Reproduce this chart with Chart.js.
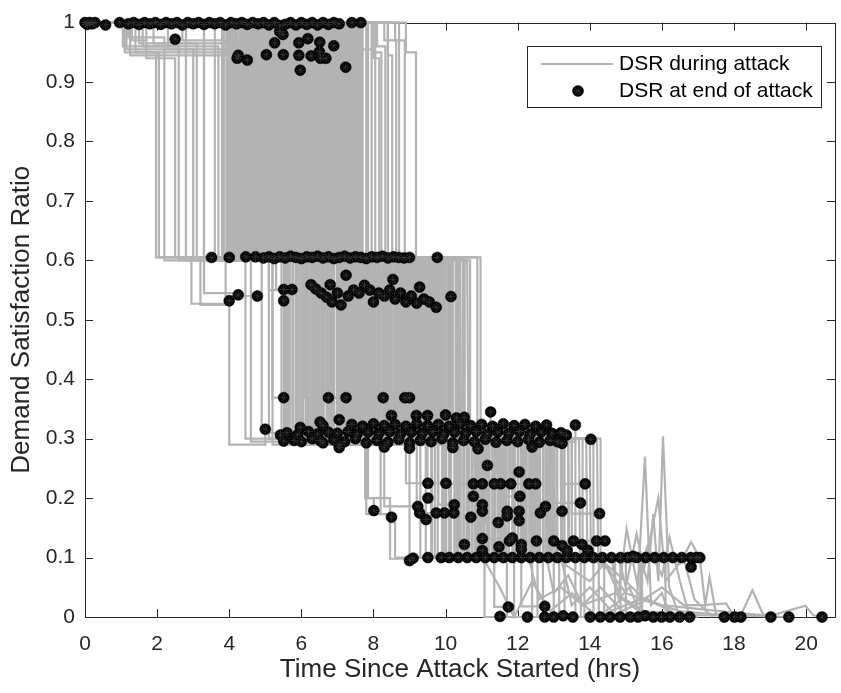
<!DOCTYPE html>
<html>
<head>
<meta charset="utf-8">
<title>Demand Satisfaction Ratio during attack</title>
<script src="https://cdn.jsdelivr.net/npm/chart.js@4.4.0/dist/chart.umd.min.js"></script>
<style>
    html, body { margin: 0; padding: 0; background: #fff; }
    #wrap { width: 841px; height: 693px; }
</style>
</head>
<body>
<div id="wrap"><canvas id="dsrChart" width="841" height="693"></canvas></div>
<script>
// Axis ticks
const xTickValues = [0, 2, 4, 6, 8, 10, 12, 14, 16, 18, 20];
const xTickLabels = ['0', '2', '4', '6', '8', '10', '12', '14', '16', '18', '20'];
const yTickValues = [0, 0.1, 0.2, 0.3, 0.4, 0.5, 0.6, 0.7, 0.8, 0.9, 1];
const yTickLabels = ['0', '0.1', '0.2', '0.3', '0.4', '0.5', '0.6', '0.7', '0.8', '0.9', '1'];

// DSR during attack: each run is [time, level, time, level, ...], level holds until the next time
const runsTo06 = [
    [0,1, 1.05,0.96, 1.4,0.95, 1.97,0.605, 3.51,0.605],
    [0,1, 1.2,0.975, 2.2,0.6, 4.0,0.605],
    [0,1, 1.3,0.97, 1.7,0.94, 2.5,0.605, 4.46,0.606],
    [0,1, 2.8,0.6, 4.73,0.606],
    [0,1, 1.5,0.965, 3.1,0.605, 5.4,0.606],
    [0,1, 3.6,0.6, 6.0,0.603],
    [0,1, 4.3,0.605, 6.6,0.604],
    [0,1, 4.8,0.6, 5.9,0.605],
    [0,1, 5.0,0.6, 7.2,0.607],
    [0,1, 5.8,0.605, 7.8,0.603],
    [0,1, 6.5,0.6, 8.4,0.604],
    [0,1, 6.9,0.605, 8.8,0.604],
    [0,1, 7.1,0.605, 9.0,0.605],
    [0,1, 8.0,0.95, 8.22,0.6, 9.77,0.605]
];
const runsTo055 = [
    [0,1, 1.1,0.95, 2.05,0.605, 2.95,0.527, 4.0,0.532],
    [0,1, 1.6,0.96, 2.6,0.6, 3.3,0.545, 4.25,0.542],
    [0,1, 3.3,0.605, 3.9,0.54, 4.78,0.54],
    [0,1, 4.5,0.6, 5.1,0.55, 5.51,0.551],
    [0,1, 4.9,0.605, 5.3,0.551, 5.74,0.551],
    [0,1, 5.4,0.6, 6.1,0.559, 6.8,0.559],
    [0,1, 5.9,0.605, 6.6,0.545, 7.6,0.545],
    [0,1, 6.3,0.6, 7.4,0.535, 8.3,0.54],
    [0,1, 6.8,0.605, 7.9,0.55, 9.28,0.555],
    [0,1, 7.3,0.605, 8.0,0.57, 8.54,0.568],
    [0,1, 7.6,0.6, 8.6,0.525, 9.74,0.521],
    [0,1, 8.3,0.97, 8.63,0.605, 9.4,0.54, 10.15,0.539]
];
const runsTo03 = [
    [0,1, 1.15,0.955, 3.0,0.605, 3.2,0.525, 4.0,0.29, 5.0,0.316],
    [0,1, 3.3,0.6, 4.45,0.3, 5.42,0.306],
    [0,1, 1.4,0.96, 3.7,0.605, 4.6,0.295, 5.8,0.297],
    [0,1, 3.95,0.6, 4.9,0.31, 5.97,0.319],
    [0,1, 4.05,0.605, 5.2,0.29, 6.52,0.297],
    [0,1, 4.15,0.6, 5.45,0.3, 6.3,0.3],
    [0,1, 1.25,0.945, 4.25,0.605, 5.6,0.295, 7.05,0.29],
    [0,1, 4.35,0.6, 5.2,0.369, 5.51,0.369],
    [0,1, 4.45,0.605, 5.75,0.305, 7.5,0.3],
    [0,1, 4.55,0.6, 5.9,0.3, 7.8,0.293],
    [0,1, 4.62,0.605, 6.05,0.29, 8.0,0.325],
    [0,1, 1.7,0.95, 4.7,0.6, 6.2,0.31, 8.2,0.31],
    [0,1, 4.78,0.605, 6.35,0.3, 8.5,0.339],
    [0,1, 4.85,0.6, 6.1,0.369, 6.75,0.369],
    [0,1, 4.92,0.605, 6.5,0.295, 8.7,0.299],
    [0,1, 5.0,0.6, 6.6,0.3, 8.9,0.321],
    [0,1, 5.08,0.605, 6.7,0.29, 9.19,0.339],
    [0,1, 5.15,0.6, 6.8,0.3, 9.0,0.293],
    [0,1, 1.9,0.965, 5.22,0.605, 6.9,0.31, 9.35,0.309],
    [0,1, 5.3,0.6, 7.0,0.3, 9.5,0.339],
    [0,1, 5.37,0.605, 6.65,0.369, 7.24,0.369],
    [0,1, 5.45,0.6, 7.1,0.295, 9.6,0.295],
    [0,1, 5.52,0.605, 7.2,0.3, 9.95,0.308],
    [0,1, 5.6,0.6, 7.3,0.29, 10.2,0.293],
    [0,1, 2.3,0.955, 5.67,0.605, 7.4,0.3, 10.4,0.325],
    [0,1, 5.75,0.6, 7.5,0.31, 10.52,0.336],
    [0,1, 5.82,0.605, 7.6,0.3, 10.8,0.295],
    [0,1, 5.9,0.6, 7.2,0.369, 8.27,0.369],
    [0,1, 5.97,0.605, 7.7,0.295, 11.0,0.324],
    [0,1, 6.05,0.6, 7.8,0.3, 11.1,0.299],
    [0,1, 6.12,0.605, 7.9,0.29, 11.25,0.345],
    [0,1, 6.2,0.6, 8.0,0.3, 11.45,0.311],
    [0,1, 2.7,0.97, 6.28,0.605, 8.1,0.31, 11.6,0.325],
    [0,1, 6.35,0.6, 8.2,0.3, 11.7,0.297],
    [0,1, 6.42,0.605, 8.3,0.295, 12.0,0.295],
    [0,1, 6.5,0.6, 8.0,0.369, 8.87,0.369],
    [0,1, 6.57,0.605, 8.4,0.3, 12.2,0.324],
    [0,1, 6.65,0.6, 8.5,0.29, 12.4,0.286],
    [0,1, 6.72,0.605, 8.6,0.3, 12.65,0.311],
    [0,1, 6.8,0.6, 8.45,0.369, 9.0,0.369],
    [0,1, 6.88,0.605, 8.7,0.3, 12.8,0.323],
    [0,1, 6.95,0.6, 8.8,0.31, 12.95,0.309],
    [0,1, 7.02,0.605, 8.9,0.3, 13.23,0.292],
    [0,1, 7.1,0.6, 9.0,0.295, 13.6,0.323],
    [0,1, 7.6,0.955, 8.0,0.94, 8.16,0.605, 9.1,0.3, 14.03,0.299],
    [0,1, 7.25,0.6, 9.2,0.3, 12.9,0.297],
    [0,1, 7.33,0.605, 9.3,0.29, 11.9,0.322],
    [0,1, 7.4,0.6, 9.4,0.3, 11.0,0.31],
    [0,1, 7.5,0.605, 9.5,0.3, 10.6,0.3],
    [0,1, 7.7,0.6, 9.65,0.31, 12.3,0.299],
    [0,1, 7.95,0.605, 9.8,0.3, 11.5,0.3],
    [0,1, 8.1,0.96, 8.33,0.605, 9.95,0.295, 12.7,0.3],
    [0,1, 8.4,0.945, 8.52,0.605, 10.34,0.3, 12.5,0.321],
    [0,1, 8.71,0.605, 10.97,0.29, 13.35,0.306],
    [0,1, 8.6,0.97, 8.87,0.6, 10.53,0.3, 13.1,0.295],
    [0,1, 8.9,0.95, 9.18,0.605, 10.07,0.31, 11.75,0.309],
    [0,1, 7.18,0.605, 9.15,0.3, 10.1,0.321]
];
const runsTo03More = [
    [0,1, 3.85,0.6, 5.58,0.3, 6.6,0.3],
    [0,1, 3.92,0.605, 5.52,0.3, 6.9,0.31],
    [0,1, 3.98,0.605, 5.78,0.3, 7.0,0.31],
    [0,1, 4.02,0.6, 5.68,0.3, 7.3,0.3],
    [0,1, 4.12,0.605, 5.85,0.295, 7.7,0.31],
    [0,1, 4.22,0.6, 6.02,0.3, 8.1,0.3],
    [0,1, 4.32,0.605, 6.18,0.31, 8.4,0.31],
    [0,1, 4.42,0.6, 6.32,0.3, 8.8,0.3],
    [0,1, 4.52,0.605, 6.45,0.295, 9.1,0.31],
    [0,1, 4.59,0.6, 6.58,0.3, 9.4,0.3],
    [0,1, 4.67,0.605, 6.72,0.31, 9.7,0.31],
    [0,1, 4.74,0.6, 6.85,0.3, 10.0,0.3],
    [0,1, 4.82,0.605, 6.98,0.3, 10.3,0.31],
    [0,1, 4.89,0.6, 7.12,0.295, 10.6,0.3],
    [0,1, 4.97,0.605, 7.25,0.3, 10.9,0.31],
    [0,1, 5.04,0.6, 7.38,0.31, 11.2,0.3],
    [0,1, 5.12,0.605, 7.52,0.3, 11.5,0.31],
    [0,1, 5.19,0.6, 7.65,0.3, 11.8,0.3],
    [0,1, 5.27,0.605, 7.78,0.295, 12.1,0.31],
    [0,1, 5.34,0.6, 7.92,0.3, 12.4,0.3],
    [0,1, 5.42,0.605, 8.05,0.31, 12.6,0.31],
    [0,1, 5.49,0.6, 8.18,0.3, 12.9,0.3],
    [0,1, 5.57,0.605, 8.32,0.3, 9.6,0.31],
    [0,1, 5.64,0.6, 8.45,0.295, 10.1,0.3],
    [0,1, 5.72,0.605, 8.58,0.3, 10.5,0.31],
    [0,1, 5.79,0.6, 8.72,0.31, 10.9,0.3],
    [0,1, 5.87,0.605, 8.85,0.3, 11.3,0.31],
    [0,1, 5.94,0.6, 8.98,0.3, 11.6,0.3],
    [0,1, 6.02,0.605, 9.12,0.295, 11.9,0.31],
    [0,1, 6.09,0.6, 9.25,0.3, 12.2,0.3],
    [0,1, 6.17,0.605, 9.38,0.31, 12.5,0.31],
    [0,1, 6.24,0.6, 9.52,0.3, 12.8,0.3],
    [0,1, 6.32,0.605, 9.65,0.3, 13.0,0.31],
    [0,1, 6.39,0.6, 9.78,0.295, 11.1,0.3],
    [0,1, 6.47,0.605, 9.92,0.3, 11.4,0.31],
    [0,1, 6.54,0.6, 10.05,0.31, 11.7,0.3],
    [0,1, 6.62,0.605, 10.18,0.3, 12.0,0.31],
    [0,1, 6.84,0.6, 7.6,0.3, 9.2,0.31],
    [0,1, 6.99,0.605, 7.85,0.3, 9.8,0.3],
    [0,1, 7.14,0.6, 8.1,0.295, 10.4,0.31],
    [0,1, 7.29,0.605, 8.38,0.3, 10.7,0.3],
    [0,1, 7.44,0.6, 8.62,0.3, 11.3,0.31],
    [0,1, 7.58,0.605, 8.88,0.31, 12.0,0.3]
];
const runsTo02 = [
    [0,1, 4.2,0.6, 6.0,0.295, 7.77,0.2, 8.01,0.179],
    [0,1, 4.6,0.605, 6.3,0.3, 7.8,0.173, 8.5,0.168],
    [0,1, 5.05,0.6, 6.9,0.3, 8.3,0.186, 9.23,0.186],
    [0,1, 5.35,0.605, 7.15,0.29, 8.9,0.225, 9.51,0.225],
    [0,1, 5.65,0.6, 7.35,0.3, 9.2,0.175, 9.97,0.175],
    [0,1, 5.95,0.605, 7.65,0.3, 9.5,0.225, 10.01,0.225],
    [0,1, 6.25,0.6, 7.95,0.295, 9.8,0.189, 10.24,0.189],
    [0,1, 6.55,0.605, 8.25,0.3, 10.1,0.224, 10.77,0.224],
    [0,1, 6.85,0.6, 8.55,0.3, 10.4,0.122, 10.52,0.122],
    [0,1, 7.15,0.605, 8.85,0.3, 10.5,0.224, 11.02,0.224],
    [0,1, 7.45,0.6, 9.15,0.3, 10.8,0.254, 11.16,0.254],
    [0,1, 4.95,0.605, 7.05,0.3, 10.9,0.224, 11.35,0.224],
    [0,1, 5.25,0.6, 7.25,0.3, 11.1,0.159, 11.46,0.159],
    [0,1, 5.55,0.605, 7.45,0.29, 11.2,0.224, 11.81,0.224],
    [0,1, 5.85,0.6, 7.75,0.3, 11.4,0.243, 12.04,0.243],
    [0,1, 6.15,0.605, 8.05,0.3, 11.6,0.203, 12.06,0.203],
    [0,1, 6.45,0.6, 8.35,0.3, 11.8,0.224, 12.5,0.224],
    [0,1, 6.75,0.605, 8.65,0.3, 12.1,0.186, 12.77,0.186],
    [0,1, 7.05,0.6, 8.95,0.295, 12.5,0.178, 13.23,0.178],
    [0,1, 7.35,0.605, 9.25,0.3, 12.9,0.192, 13.74,0.192],
    [0,1, 7.65,0.6, 9.55,0.3, 13.2,0.224, 13.87,0.224],
    [0,1, 7.85,0.605, 9.85,0.3, 13.5,0.174, 14.27,0.174],
    [0,1, 6.0,0.6, 8.75,0.3, 11.0,0.132, 11.85,0.133],
    [0,1, 6.6,0.605, 9.05,0.3, 12.2,0.128, 13.0,0.128],
    [0,1, 7.25,0.6, 9.6,0.3, 13.0,0.128, 14.19,0.128],
    [0,1, 7.55,0.605, 9.9,0.3, 13.6,0.122, 14.42,0.128]
];
const runsTo01 = [
    [0,1, 3.8,0.605, 5.1,0.3, 7.85,0.2, 8.46,0.098, 9.0,0.095],
    [0,1, 4.0,0.6, 5.65,0.295, 8.2,0.173, 8.6,0.1, 9.1,0.099],
    [0,1, 4.4,0.605, 6.15,0.3, 9.0,0.1, 9.51,0.1],
    [0,1, 4.75,0.6, 6.45,0.3, 9.3,0.1, 9.88,0.1],
    [0,1, 5.12,0.605, 6.75,0.3, 9.6,0.1, 10.3,0.1],
    [0,1, 5.42,0.6, 7.05,0.3, 9.9,0.1, 10.8,0.1],
    [0,1, 5.72,0.605, 7.3,0.3, 10.15,0.1, 11.3,0.1],
    [0,1, 6.02,0.6, 7.6,0.3, 10.35,0.1, 11.8,0.1],
    [0,1, 6.32,0.605, 7.9,0.3, 10.6,0.1, 12.3,0.1],
    [0,1, 6.62,0.6, 8.15,0.3, 10.85,0.1, 12.8,0.1],
    [0,1, 6.92,0.605, 8.45,0.3, 11.05,0.1, 13.3,0.1],
    [0,1, 7.22,0.6, 8.75,0.3, 11.3,0.1, 13.8,0.1],
    [0,1, 7.52,0.605, 9.05,0.3, 11.55,0.1, 14.3,0.1],
    [0,1, 7.8,0.6, 9.35,0.3, 11.75,0.1, 14.8,0.1],
    [0,1, 8.05,0.605, 9.6,0.3, 12.0,0.1, 15.2,0.1],
    [0,1, 8.4,0.6, 9.9,0.3, 12.25,0.1, 15.6,0.1],
    [0,1, 5.28,0.605, 8.6,0.3, 12.45,0.1, 16.0,0.1],
    [0,1, 5.58,0.6, 8.9,0.3, 12.7,0.1, 16.4,0.1],
    [0,1, 5.88,0.605, 9.2,0.3, 12.95,0.1, 16.81,0.084],
    [0,1, 6.18,0.6, 9.45,0.3, 13.2,0.1, 17.05,0.1],
    [0,1, 6.48,0.605, 9.75,0.3, 13.5,0.1, 15.0,0.1],
    [0,1, 6.78,0.6, 10.0,0.3, 13.8,0.1, 14.5,0.1],
    [0,1, 7.08,0.605, 10.2,0.3, 14.1,0.1, 16.2,0.1],
    [0,1, 7.38,0.6, 10.4,0.3, 14.3,0.1, 17.0,0.1]
];
const runsTo01More = [
    [0,1, 4.08,0.6, 6.12,0.3, 9.45,0.1, 10.0,0.1],
    [0,1, 4.28,0.605, 6.4,0.3, 9.62,0.1, 10.5,0.1],
    [0,1, 4.48,0.6, 6.62,0.3, 9.78,0.1, 11.0,0.1],
    [0,1, 4.68,0.605, 6.88,0.3, 9.95,0.1, 11.5,0.1],
    [0,1, 4.88,0.6, 7.08,0.3, 10.1,0.1, 12.0,0.1],
    [0,1, 5.08,0.605, 7.28,0.3, 10.25,0.1, 12.5,0.1],
    [0,1, 5.28,0.6, 7.48,0.3, 10.42,0.1, 13.0,0.1],
    [0,1, 5.48,0.605, 7.68,0.3, 10.58,0.1, 13.5,0.1],
    [0,1, 5.68,0.6, 7.88,0.3, 10.72,0.1, 14.0,0.1],
    [0,1, 5.88,0.605, 8.08,0.3, 10.9,0.1, 14.5,0.1],
    [0,1, 6.08,0.6, 8.28,0.3, 11.08,0.1, 15.0,0.1],
    [0,1, 6.28,0.605, 8.48,0.3, 11.22,0.1, 15.5,0.1],
    [0,1, 6.48,0.6, 8.68,0.3, 11.38,0.1, 16.0,0.1],
    [0,1, 6.68,0.605, 8.88,0.3, 11.52,0.1, 16.6,0.1],
    [0,1, 6.88,0.6, 9.08,0.3, 11.68,0.1, 12.2,0.1],
    [0,1, 7.08,0.605, 9.28,0.3, 11.85,0.1, 12.9,0.1],
    [0,1, 7.28,0.6, 9.48,0.3, 12.02,0.1, 13.6,0.1],
    [0,1, 7.48,0.605, 9.68,0.3, 12.18,0.1, 14.2,0.1],
    [0,1, 4.18,0.6, 9.88,0.3, 12.32,0.1, 14.9,0.1],
    [0,1, 4.58,0.605, 10.08,0.3, 12.48,0.1, 15.6,0.1],
    [0,1, 4.98,0.6, 10.28,0.3, 12.62,0.1, 16.3,0.1],
    [0,1, 5.38,0.605, 10.48,0.3, 12.78,0.1, 13.7,0.1],
    [0,1, 5.78,0.6, 10.68,0.3, 12.92,0.1, 14.4,0.1],
    [0,1, 6.18,0.605, 10.88,0.3, 13.08,0.1, 15.3,0.1],
    [0,1, 6.58,0.6, 9.18,0.3, 13.25,0.1, 16.9,0.1],
    [0,1, 6.98,0.605, 9.38,0.3, 13.4,0.1, 15.9,0.1],
    [0,1, 4.38,0.6, 7.18,0.3, 10.02,0.1, 11.2,0.1],
    [0,1, 4.78,0.605, 7.38,0.3, 10.32,0.1, 11.9,0.1],
    [0,1, 5.18,0.6, 7.58,0.3, 10.5,0.1, 12.6,0.1],
    [0,1, 5.58,0.605, 7.78,0.3, 10.82,0.1, 13.3,0.1],
    [0,1, 5.98,0.6, 7.98,0.3, 11.0,0.1, 14.0,0.1],
    [0,1, 6.38,0.605, 8.18,0.3, 11.15,0.1, 14.7,0.1],
    [0,1, 6.78,0.6, 8.38,0.3, 11.3,0.1, 15.4,0.1],
    [0,1, 7.18,0.605, 8.58,0.3, 11.45,0.1, 16.1,0.1],
    [0,1, 4.48,0.6, 8.78,0.3, 11.6,0.1, 12.4,0.1],
    [0,1, 4.88,0.605, 8.98,0.3, 11.92,0.1, 13.1,0.1],
    [0,1, 5.28,0.6, 9.18,0.3, 12.1,0.1, 13.9,0.1],
    [0,1, 5.68,0.605, 9.38,0.3, 12.4,0.1, 14.6,0.1],
    [0,1, 6.08,0.6, 9.58,0.3, 12.55,0.1, 15.3,0.1],
    [0,1, 6.48,0.605, 9.78,0.3, 12.72,0.1, 16.0,0.1],
    [0,1, 6.88,0.6, 9.98,0.3, 12.88,0.1, 16.7,0.1],
    [0,1, 7.28,0.605, 10.18,0.3, 13.02,0.1, 14.1,0.1]
];
const runsTo0 = [
    [0,1, 4.1,0.605, 5.95,0.3, 9.7,0.1, 11.08,0, 11.51,0],
    [0,1, 4.5,0.6, 6.25,0.3, 10.0,0.1, 11.35,0.017, 11.74,0.017],
    [0,1, 4.9,0.605, 6.55,0.3, 10.25,0.1, 11.7,0, 12.27,0],
    [0,1, 5.3,0.6, 6.85,0.3, 10.5,0.1, 12.1,0.018, 12.75,0.018],
    [0,1, 5.7,0.605, 7.15,0.3, 10.75,0.1, 12.4,0, 13.0,0],
    [0,1, 6.1,0.6, 7.45,0.3, 10.95,0.1, 12.7,0, 13.26,0],
    [0,1, 6.4,0.605, 7.75,0.3, 11.2,0.1, 13.0,0, 13.53,0],
    [0,1, 6.7,0.6, 8.05,0.3, 11.45,0.1, 13.3,0, 14.01,0],
    [0,1, 7.0,0.605, 8.35,0.3, 11.65,0.1, 13.6,0, 14.29,0],
    [0,1, 7.3,0.6, 8.65,0.3, 11.9,0.1, 13.85,0, 14.56,0],
    [0,1, 7.6,0.605, 8.95,0.3, 12.15,0.1, 14.1,0, 14.84,0],
    [0,1, 4.65,0.6, 9.25,0.3, 12.35,0.1, 14.4,0, 15.12,0],
    [0,1, 5.05,0.605, 9.55,0.3, 12.6,0.1, 14.7,0, 15.34,0],
    [0,1, 5.5,0.6, 9.85,0.3, 12.85,0.1, 15.0,0, 15.76,0],
    [0,1, 5.9,0.605, 10.15,0.3, 13.1,0.1, 15.4,0, 15.99,0],
    [0,1, 5.18,0.6, 7.58,0.3, 10.65,0.1, 11.9,0, 12.5,0],
    [0,1, 5.58,0.605, 7.98,0.3, 11.0,0.1, 12.55,0, 13.4,0],
    [0,1, 5.98,0.6, 8.38,0.3, 11.35,0.1, 13.15,0, 14.2,0],
    [0,1, 6.38,0.605, 8.78,0.3, 11.75,0.1, 13.75,0, 14.7,0],
    [0,1, 6.78,0.6, 9.18,0.3, 12.1,0.1, 14.25,0, 15.2,0],
    [0,1, 7.18,0.605, 9.58,0.3, 12.5,0.1, 14.85,0, 15.9,0],
    [0,1, 7.48,0.6, 9.98,0.3, 12.9,0.1, 15.45,0, 16.4,0],
    [0,1, 7.68,0.605, 10.38,0.3, 13.3,0.1, 16.1,0, 16.9,0]
];
// Runs with a noisy tail, drawn point to point
const noisyRuns = [
    [0,1, 6.3,1, 6.33,0.605, 9.9,0.605, 9.93,0.3, 13.4,0.3, 13.43,0.1, 14.6,0.1, 14.8,0.03, 15.1,0.05, 15.3,0.02, 15.53,0.27, 15.7,0.02, 16.0,0.04, 16.22,0],
    [0,1, 6.6,1, 6.63,0.6, 10.1,0.6, 10.13,0.3, 13.7,0.3, 13.73,0.1, 15.4,0.1, 15.6,0.06, 15.76,0.173, 15.9,0.06, 16.03,0.304, 16.2,0.05, 16.49,0],
    [0,1, 5.6,1, 5.63,0.605, 9.7,0.605, 9.73,0.3, 14.0,0.3, 14.03,0.1, 14.5,0.08, 14.8,0.04, 15.02,0.148, 15.3,0.06, 15.6,0.12, 16.0,0.07, 16.21,0.134, 16.5,0.06, 16.77,0],
    [0,1, 7.2,1, 7.23,0.6, 10.3,0.6, 10.33,0.3, 13.9,0.3, 13.93,0.1, 16.3,0.1, 16.5,0.09, 16.81,0.126, 17.05,0.1, 17.2,0.02, 17.32,0.067, 17.5,0.005, 17.73,0],
    [0,1, 6.0,1, 6.03,0.605, 9.4,0.605, 9.43,0.3, 14.2,0.3, 14.23,0.1, 15.0,0.06, 15.5,0.03, 16.0,0.05, 16.6,0.02, 17.1,0.02, 17.78,0.023, 18.01,0],
    [0,1, 5.2,1, 5.23,0.6, 8.8,0.6, 8.83,0.3, 12.4,0.3, 12.43,0.1, 13.2,0.1, 13.5,0.02, 14.0,0.05, 14.6,0.01, 15.4,0.03, 16.5,0.01, 17.4,0.005, 18.19,0.003, 18.51,0.045, 18.8,0.005, 19.02,0],
    [0,1, 4.7,1, 4.73,0.605, 8.3,0.605, 8.33,0.3, 11.5,0.3, 11.53,0.1, 12.3,0.1, 12.6,0.03, 13.2,0.05, 13.8,0.02, 14.7,0.04, 15.5,0.01, 17.0,0.003, 18.6,0.002, 19.52,0],
    [0,1, 7.5,1, 7.53,0.6, 10.6,0.6, 10.63,0.3, 13.0,0.3, 13.03,0.1, 14.0,0.06, 14.4,0.09, 15.0,0.04, 16.0,0.02, 17.6,0.01, 19.0,0.002, 19.98,0.019, 20.2,0.003, 20.44,0],
    [0,1, 6.8,1, 6.83,0.605, 9.6,0.605, 9.63,0.3, 12.2,0.3, 12.23,0.1, 12.8,0.1, 13.0,0.04, 13.4,0.07, 13.8,0.02, 14.3,0.05, 14.9,0.01, 15.6,0.03, 16.4,0.005, 17.0,0],
    [0,1, 5.4,1, 5.43,0.6, 9.0,0.6, 9.03,0.3, 12.8,0.3, 12.83,0.1, 14.8,0.1, 15.0,0.05, 15.3,0.14, 15.5,0.08, 15.9,0.2, 16.1,0.06, 16.6,0.1, 16.9,0.03, 17.4,0],
    [0,1, 6.2,1, 6.23,0.605, 10.4,0.605, 10.43,0.3, 11.0,0.3, 11.03,0.1, 11.5,0.05, 11.9,0, 12.4,0.06, 12.9,0.01, 13.5,0.04, 14.2,0, 14.9,0.03, 15.6,0]
];

// DSR at end of attack: [time, DSR, time, DSR, ...]
const endPtsTop = [0,1, 0.06,0.997, 0.13,1, 0.2,0.998, 0.28,1, 0.57,0.996, 0.96,1, 1.2,0.998, 1.35,1, 1.5,0.997,
    1.65,1, 1.8,0.998, 1.95,1, 2.1,0.997, 2.25,1, 2.4,0.998, 2.55,1, 2.7,0.996, 2.85,1, 3.0,0.998, 3.15,1, 3.3,0.997,
    3.45,1, 3.6,0.998, 3.75,1, 3.9,0.996, 4.05,1, 4.2,0.998, 4.35,1, 4.5,0.997, 4.65,1, 4.8,0.998, 4.95,1, 5.1,0.996,
    5.25,1, 5.4,0.995, 5.55,0.997, 5.7,1, 5.85,0.996, 6.0,1, 6.15,0.997, 6.3,1, 6.45,0.996, 6.6,1, 6.75,0.997, 6.9,1,
    7.05,0.998, 7.4,1, 7.65,1];
const endPtsNearTop = [2.5,0.972, 4.25,0.945, 4.5,0.937, 4.22,0.94, 5.03,0.946, 5.26,0.966, 5.5,0.946, 5.49,0.98,
    5.4,0.985, 5.93,0.966, 5.93,0.945, 5.97,0.92, 6.18,0.973, 6.27,0.944, 6.51,0.967, 6.5,0.951, 6.53,0.94, 6.68,0.94,
    6.9,0.961, 7.23,0.925];
const endPts06 = [3.51,0.605, 4.0,0.605, 4.46,0.606, 4.73,0.606, 4.95,0.604, 5.1,0.606, 5.25,0.603, 5.4,0.606,
    5.55,0.604, 5.7,0.607, 5.85,0.605, 6.0,0.603, 6.15,0.606, 6.3,0.605, 6.45,0.607, 6.6,0.604, 6.75,0.606, 6.9,0.603,
    7.05,0.605, 7.2,0.607, 7.35,0.604, 7.5,0.606, 7.65,0.605, 7.8,0.603, 7.95,0.606, 8.1,0.605, 8.25,0.607, 8.4,0.604,
    8.55,0.606, 8.7,0.605, 8.85,0.604, 9.0,0.605, 9.77,0.605];
const endPts055 = [4.0,0.532, 4.25,0.542, 4.78,0.54, 5.51,0.551, 5.51,0.532, 5.74,0.551, 6.27,0.559, 6.8,0.559,
    7.24,0.575, 6.4,0.552, 6.55,0.545, 6.7,0.538, 6.85,0.53, 7.0,0.545, 7.1,0.525, 7.3,0.54, 7.45,0.55, 7.6,0.545,
    7.75,0.558, 7.9,0.55, 8.0,0.53, 8.15,0.545, 8.3,0.54, 8.45,0.55, 8.6,0.535, 8.75,0.545, 8.9,0.53, 9.05,0.54,
    9.2,0.528, 9.4,0.535, 9.55,0.53, 8.54,0.568, 9.28,0.555, 9.74,0.521, 10.15,0.539];
const endPts037 = [5.51,0.369, 6.75,0.369, 7.24,0.369, 8.27,0.369, 8.87,0.369, 9.0,0.369];
const endPts03 = [5.0,0.316, 5.42,0.306, 5.51,0.296, 5.8,0.297, 5.97,0.319, 6.52,0.328, 6.52,0.297, 7.05,0.332,
    7.05,0.29, 8.5,0.339, 9.19,0.339, 9.5,0.339, 10.0,0.34, 10.3,0.335, 10.52,0.336, 11.25,0.345, 13.6,0.323,
    14.03,0.299, 13.23,0.292,
    6.0,0.295, 6.3,0.3, 6.6,0.293, 6.9,0.298, 7.2,0.295, 7.5,0.3, 7.8,0.293, 8.1,0.297, 8.4,0.294, 8.7,0.299,
    9.0,0.293, 9.3,0.297, 9.6,0.295, 9.9,0.3, 10.2,0.293, 10.5,0.297, 10.8,0.295, 11.1,0.299, 11.4,0.294, 11.7,0.297,
    12.0,0.295, 12.3,0.299, 12.6,0.294, 12.9,0.297, 13.1,0.295,
    5.6,0.31, 5.9,0.307, 6.2,0.312, 6.45,0.308, 6.75,0.311, 7.0,0.309, 7.3,0.312, 7.55,0.308, 7.85,0.311, 8.15,0.309,
    8.45,0.312, 8.75,0.308, 9.05,0.311, 9.35,0.309, 9.65,0.312, 9.95,0.308, 10.25,0.311, 10.55,0.309, 10.85,0.312,
    11.15,0.308, 11.45,0.311, 11.75,0.309, 12.05,0.312, 12.35,0.308, 12.65,0.311, 12.95,0.309, 13.2,0.31, 13.35,0.306,
    6.6,0.322, 7.4,0.324, 7.7,0.321, 8.0,0.325, 8.3,0.322, 8.6,0.324, 8.9,0.321, 9.2,0.325, 9.5,0.322, 9.8,0.324,
    10.1,0.321, 10.4,0.325, 10.7,0.322, 11.0,0.324, 11.3,0.321, 11.6,0.325, 11.9,0.322, 12.2,0.324, 12.5,0.321, 12.8,0.323,
    7.05,0.285, 8.3,0.286, 9.0,0.284, 10.2,0.285, 10.9,0.283, 12.4,0.286];
const endPts02 = [8.01,0.179, 8.5,0.168, 9.23,0.186, 9.28,0.175, 9.46,0.164, 9.51,0.225, 10.01,0.225, 9.51,0.2,
    9.74,0.175, 9.97,0.175, 10.23,0.175, 10.24,0.189, 10.77,0.224, 10.77,0.203, 10.7,0.168, 11.02,0.224, 11.02,0.189,
    11.02,0.178, 11.16,0.255, 11.35,0.224, 11.53,0.224, 11.46,0.159, 11.71,0.178, 11.71,0.17, 12.04,0.244, 11.81,0.224,
    12.06,0.203, 12.04,0.178, 12.04,0.162, 12.31,0.224, 12.5,0.224, 12.63,0.175, 12.77,0.186, 13.23,0.178, 13.74,0.192,
    13.87,0.224, 14.27,0.174,
    10.52,0.122, 11.02,0.132, 11.02,0.112, 11.48,0.118, 11.77,0.128, 11.85,0.133, 12.1,0.114, 12.1,0.122, 12.52,0.128,
    13.0,0.128, 13.23,0.12, 13.55,0.128, 13.78,0.122, 14.19,0.128, 14.42,0.128, 13.37,0.112, 13.95,0.112];
const endPts01 = [9.0,0.095, 9.1,0.099, 9.51,0.1, 9.88,0.1, 10.1,0.1, 10.35,0.1, 10.6,0.1, 10.85,0.1, 11.1,0.1,
    11.35,0.1, 11.6,0.1, 11.85,0.1, 12.1,0.1, 12.35,0.1, 12.6,0.1, 12.85,0.1, 13.1,0.1, 13.35,0.1, 13.6,0.1, 13.85,0.1,
    14.1,0.1, 14.35,0.1, 14.6,0.1, 14.85,0.1, 15.05,0.1, 15.2,0.102, 15.3,0.1, 15.55,0.1, 15.8,0.1, 16.05,0.1, 16.3,0.1,
    16.55,0.1, 16.8,0.1, 16.95,0.1, 17.05,0.1, 16.81,0.084];
const endPts0 = [11.51,0.001, 11.74,0.017, 12.27,0, 12.75,0.018, 12.75,0, 13.0,0, 13.26,0.002, 13.53,0, 14.01,0,
    14.29,0, 14.56,0, 14.84,0, 15.12,0, 15.34,0, 15.53,0.002, 15.76,0, 15.99,0, 16.22,0, 16.49,0, 16.77,0, 17.73,0,
    18.01,0, 18.19,0, 19.02,0, 19.52,0, 20.44,0];

// Styles
const axisColor = '#262626';
const lineColor = '#b3b3b3';
const markColor = '#3a3a3a';
const tickLen = 8;

Chart.defaults.font.family = "'Liberation Sans', Arial, Helvetica, sans-serif";
Chart.defaults.color = axisColor;

/**
 * Turns a flat [x, y, x, y, ...] list into Chart.js point objects.
 */
function toPoints(flat) {
    const pts = [];
    for (let i = 0; i < flat.length; i += 2) pts.push({ x: flat[i], y: flat[i + 1] });
    return pts;
}

function runDataset(run, stepped) {
    return {
        data: toPoints(run),
        stepped: stepped,
        borderColor: lineColor,
        borderWidth: 2.2,
        pointRadius: 0,
        pointHitRadius: 0,
        fill: false,
        tension: 0,
        order: 2,
        clip: false
    };
}

/**
 * Draws the MATLAB style box with inward ticks, and the legend.
 */
const matlabAxes = {
    id: 'matlabAxes',
    beforeDatasetsDraw(chart) {
        const { ctx, chartArea: a, scales: { x, y } } = chart;
        ctx.save();
        ctx.strokeStyle = axisColor;
        ctx.lineWidth = 1;
        ctx.strokeRect(Math.round(a.left) + 0.5, Math.round(a.top) + 0.5,
            Math.round(a.right - a.left), Math.round(a.bottom - a.top));
        ctx.beginPath();
        xTickValues.forEach(v => {
            const px = Math.round(x.getPixelForValue(v)) + 0.5;
            ctx.moveTo(px, a.bottom); ctx.lineTo(px, a.bottom - tickLen);
            ctx.moveTo(px, a.top); ctx.lineTo(px, a.top + tickLen);
        });
        yTickValues.forEach(v => {
            const py = Math.round(y.getPixelForValue(v)) + 0.5;
            ctx.moveTo(a.left, py); ctx.lineTo(a.left + tickLen, py);
            ctx.moveTo(a.right, py); ctx.lineTo(a.right - tickLen, py);
        });
        ctx.stroke();
        ctx.restore();
    },
    afterDraw(chart) {
        const { ctx, chartArea: a } = chart;
        const bx = Math.round(a.right - 308.5), by = Math.round(a.top + 23), bw = 294, bh = 61;
        ctx.save();
        ctx.fillStyle = '#fff';
        ctx.fillRect(bx, by, bw, bh);
        ctx.strokeStyle = axisColor;
        ctx.lineWidth = 1;
        ctx.strokeRect(bx + 0.5, by + 0.5, bw, bh);

        // line sample
        ctx.strokeStyle = lineColor;
        ctx.lineWidth = 1.8;
        ctx.beginPath();
        ctx.moveTo(bx + 14, by + 18);
        ctx.lineTo(bx + 86, by + 18);
        ctx.stroke();

        // marker sample
        const mx = bx + 51, my = by + 45;
        ctx.fillStyle = '#000';
        ctx.beginPath();
        ctx.arc(mx, my, 5.8, 0, Math.PI * 2);
        ctx.fill();
        ctx.strokeStyle = markColor;
        ctx.lineWidth = 0.7;
        ctx.beginPath();
        ctx.moveTo(mx - 4, my); ctx.lineTo(mx + 4, my);
        ctx.moveTo(mx, my - 4); ctx.lineTo(mx, my + 4);
        ctx.moveTo(mx - 3, my - 3); ctx.lineTo(mx + 3, my + 3);
        ctx.moveTo(mx - 3, my + 3); ctx.lineTo(mx + 3, my - 3);
        ctx.stroke();

        ctx.fillStyle = '#000';
        ctx.font = "21px 'Liberation Sans', Arial, Helvetica, sans-serif";
        ctx.textAlign = 'left';
        ctx.textBaseline = 'middle';
        ctx.fillText('DSR during attack', bx + 92, by + 18.5);
        ctx.fillText('DSR at end of attack', bx + 92, by + 45);
        ctx.restore();
    }
};

function buildDatasets() {
    const datasets = [];
    const endPoints = toPoints([].concat(endPtsTop, endPtsNearTop, endPts06, endPts055, endPts037,
        endPts03, endPts02, endPts01, endPts0));

    // asterisk drawn over each end marker
    datasets.push({
        data: endPoints,
        showLine: false,
        pointStyle: 'star',
        pointRadius: 4.5,
        pointBorderColor: markColor,
        pointBorderWidth: 0.7,
        pointBackgroundColor: 'rgba(0,0,0,0)',
        order: 0,
        clip: false
    });
    datasets.push({
        label: 'DSR at end of attack',
        data: endPoints,
        showLine: false,
        pointStyle: 'circle',
        pointRadius: 5.5,
        pointBorderWidth: 0.5,
        pointBorderColor: '#000',
        pointBackgroundColor: '#000',
        order: 1,
        clip: false
    });

    [runsTo06, runsTo055, runsTo03, runsTo03More, runsTo02, runsTo01, runsTo01More, runsTo0].forEach(group => {
        group.forEach(run => datasets.push(runDataset(run, true)));
    });
    noisyRuns.forEach(run => datasets.push(runDataset(run, false)));
    return datasets;
}

function renderChart() {
    const ctx = document.getElementById('dsrChart').getContext('2d');
    new Chart(ctx, {
        type: 'line',
        data: { datasets: buildDatasets() },
        options: {
            responsive: false,
            animation: false,
            events: [],
            layout: { padding: { top: 15, right: 1.5, left: 0, bottom: 0 } },
            plugins: {
                legend: { display: false },
                tooltip: { enabled: false }
            },
            scales: {
                x: {
                    type: 'linear',
                    min: 0,
                    max: 20.8,
                    grid: { display: false, drawTicks: false },
                    border: { display: false },
                    afterBuildTicks: s => { s.ticks = xTickValues.map(v => ({ value: v })); },
                    afterFit: s => { s.height = 76; },
                    ticks: {
                        autoSkip: false,
                        maxRotation: 0,
                        padding: 15,
                        color: axisColor,
                        font: { size: 21 },
                        callback: (v, i) => xTickLabels[i]
                    },
                    title: {
                        display: true,
                        text: 'Time Since Attack Started (hrs)',
                        color: axisColor,
                        font: { size: 26 },
                        padding: { top: 0, bottom: 8 }
                    }
                },
                y: {
                    type: 'linear',
                    min: 0,
                    max: 1,
                    grid: { display: false, drawTicks: false },
                    border: { display: false },
                    afterBuildTicks: s => { s.ticks = yTickValues.map(v => ({ value: v })); },
                    afterFit: s => { s.width = 85; },
                    ticks: {
                        autoSkip: false,
                        padding: 10,
                        color: axisColor,
                        font: { size: 21 },
                        callback: (v, i) => yTickLabels[i]
                    },
                    title: {
                        display: true,
                        text: 'Demand Satisfaction Ratio',
                        color: axisColor,
                        font: { size: 26 },
                        padding: { top: 6, bottom: 0 }
                    }
                }
            }
        },
        plugins: [matlabAxes]
    });
}

renderChart();
</script>
</body>
</html>
